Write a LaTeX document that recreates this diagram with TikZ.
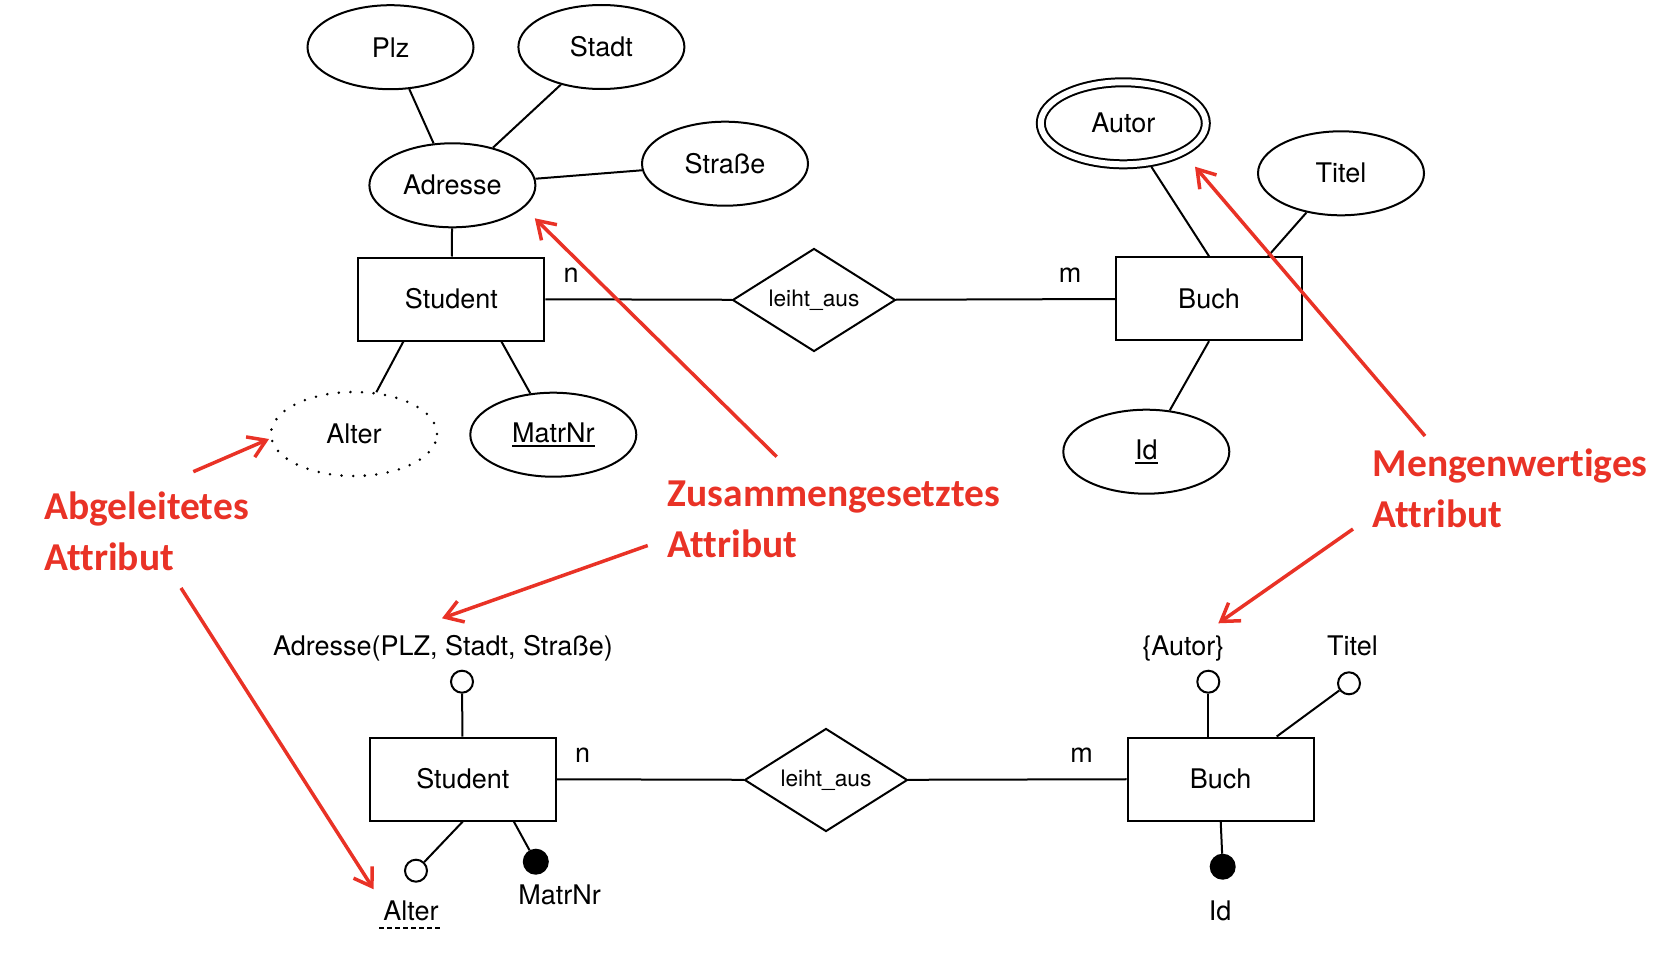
\documentclass[tikz,border=0pt]{standalone}
\usepackage{fontspec}
\setmainfont{TeX Gyre Heros}
\newfontfamily\redfont[Ligatures={NoCommon}]{Carlito}
\usetikzlibrary{shapes.geometric,arrows.meta}
\definecolor{annred}{RGB}{233,50,38}
\newcommand\keyul[1]{{\setbox0\hbox{#1}\rlap{\rule[-4pt]{\wd0}{1.8pt}}\box0}}
\begin{document}
\begin{tikzpicture}[x=1pt,y=-1pt,
 line width=2pt,
 every node/.style={font=\fontsize{27}{32}\selectfont},
 attr/.style={ellipse,draw,fill=white,minimum width=166pt,minimum height=84pt,inner sep=0pt},
 ent/.style={rectangle,draw,fill=white,minimum width=186pt,minimum height=83pt,inner sep=0pt},
 rel/.style={diamond,draw,fill=white,minimum width=163pt,minimum height=103pt,inner sep=0pt,aspect=1.58,font=\fontsize{22.7}{27}\selectfont},
 opt/.style={circle,draw,fill=white,minimum size=22pt,inner sep=0pt},
 keyc/.style={circle,draw,fill=black,minimum size=24pt,inner sep=0pt},
 lbl/.style={anchor=base,inner sep=0pt},
 ann/.style={anchor=base west,inner sep=0pt,text=annred,font=\redfont\bfseries\fontsize{39.5}{48}\selectfont},
 annarrow/.style={draw=annred,line width=3.5pt,-{Straight Barb[length=17pt,width=22pt]}}
]
\useasboundingbox (0,0) rectangle (1662,974);

% ---------- top diagram ----------
\node[attr] (plz) at (390.5,47.2) {Plz};
\node[attr] (stadt) at (601.4,47) {Stadt};
\node[attr] (adr) at (452.4,185.3) {Adresse};
\node[attr] (str) at (725,163.7) {Straße};
\node[ent] (stu) at (451.4,299) {Student};
\node[rel] (rel1) at (814,300) {leiht\_aus};
\node[ent] (buch) at (1209,298.7) {Buch};
\node[attr,double,double distance=6pt,minimum width=165pt,minimum height=82pt,outer sep=5pt] (autor) at (1123.3,123.3) {Autor};
\node[attr] (titel) at (1341,173.3) {Titel};
\node[attr] (id) at (1146.3,451.7) {\keyul{Id}};
\node[attr,dash pattern=on 0pt off 11.6pt,line cap=round,line width=2.8pt] (alt) at (354,434) {Alter};
\node[attr] (mat) at (553.3,434.7) {\keyul{MatrNr}};

\draw (plz) -- (adr);
\draw (stadt) -- (adr);
\draw (adr) -- (str);
\draw (adr) -- (stu);
\draw (stu) -- (rel1);
\draw (rel1) -- (buch);
\draw ([xshift=-48pt]stu.south) -- (alt);
\draw ([xshift=50pt]stu.south) -- (mat);
\draw (buch.north) -- (autor);
\draw ([xshift=59pt]buch.north) -- (titel);
\draw (buch.south) -- (id);

\node[lbl] (n1) at (571,282.7) {n};
\node[lbl] (m1) at (1070,282.7) {m};

% ---------- bottom diagram ----------
\node[ent] (stu2) at (462.8,779) {Student};
\node[rel] (rel2) at (826,780) {leiht\_aus};
\node[ent] (buch2) at (1220.7,779) {Buch};
\node[opt] (cadr) at (462,681.7) {};
\node[lbl] (tadr) at (443,655) {Adresse(PLZ, Stadt, Straße)};
\node[opt] (cal) at (416,870.7) {};
\node[keyc] (cmn) at (535.8,861.7) {};
\node[lbl] (tal) at (411,920) {Alter};
\node[lbl] (tmn) at (559.7,904) {MatrNr};
\node[opt] (cau) at (1208.3,681.7) {};
\node[opt] (cti) at (1349,683.3) {};
\node[keyc] (cid) at (1222.7,866.7) {};
\node[lbl] (tau) at (1183.3,655) {\{Autor\}};
\node[lbl] (tti) at (1352.5,655) {Titel};
\node[lbl] (tid) at (1220,920) {Id};
\node[lbl] (n2) at (582.7,762.7) {n};
\node[lbl] (m2) at (1081.7,762.7) {m};

\draw (cadr) -- (stu2);
\draw (stu2) -- (rel2);
\draw (rel2) -- (buch2);
\draw (stu2.south) -- (cal);
\draw ([xshift=51pt]stu2.south) -- (cmn);
\draw (cau) -- (cau |- buch2.north);
\draw ([xshift=56pt]buch2.north) -- (cti);
\draw (buch2.south) -- (cid);
\draw[dash pattern=on 5pt off 3pt,line width=1.8pt] ([xshift=-3pt,yshift=-8pt]tal.base west) -- ([xshift=3pt,yshift=-8pt]tal.base east);

% ---------- annotations ----------
\node[ann] (ab1) at (43.5,519) {Abgeleitetes};
\node[ann] (ab2) at (43.5,570) {Attribut};
\node[ann] (zu1) at (666.7,506) {Zusammengesetztes};
\node[ann] (zu2) at (666.7,557) {Attribut};
\node[ann] (me1) at (1371.7,476) {Mengenwertiges};
\node[ann] (me2) at (1371.7,527) {Attribut};

\coordinate (a1s) at (193.3,471.7); \coordinate (a1e) at (269,439);
\coordinate (a2s) at (181,588);     \coordinate (a2e) at (373.7,889.3);
\coordinate (a3s) at (776.7,456.7); \coordinate (a3e) at (534.8,218.3);
\coordinate (a4s) at (647.7,545.5); \coordinate (a4e) at (442,618.3);
\coordinate (a5s) at (1425,436);    \coordinate (a5e) at (1195,166.7);
\coordinate (a6s) at (1353,529);    \coordinate (a6e) at (1218.3,623.3);
\draw[annarrow] (a1s) -- (a1e);
\draw[annarrow] (a2s) -- (a2e);
\draw[annarrow] (a3s) -- (a3e);
\draw[annarrow] (a4s) -- (a4e);
\draw[annarrow] (a5s) -- (a5e);
\draw[annarrow] (a6s) -- (a6e);
\end{tikzpicture}
\end{document}
